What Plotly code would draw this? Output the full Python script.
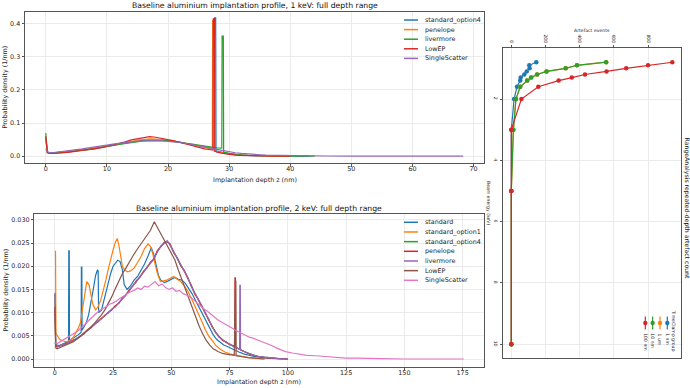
import plotly.graph_objects as go

# ---------------- DATA ----------------
# 1 keV profiles: (depth nm, probability density 1/nm)
P1_STD4 = [(0,0.055),(0.25,0.011),(0.5,0.008),(1,0.009),(2,0.010),(3,0.012),(4,0.013),(5,0.016),(6,0.018),(7,0.020),
           (8,0.024),(9,0.026),(10,0.030),(11,0.032),(12,0.036),(13,0.039),(14,0.043),(15,0.045),(16,0.048),(17,0.049),
           (18,0.050),(19,0.049),(20,0.047),(21,0.045),(22,0.042),(23,0.038),(24,0.034),(25,0.030),(26,0.027),(27,0.023),
           (27.55,0.022),(27.6,0.418),(27.8,0.418),(27.85,0.016),(28.5,0.013),(29,0.011),(30,0.007),(31,0.005),(32,0.003),
           (33,0.002),(34,0.0013),(35,0.0007),(36,0.0004),(38,0.0002),(40,0.0001),(43,0.0)]
P1_PEN = [(0,0.058),(0.25,0.010),(0.5,0.008),(1,0.009),(2,0.010),(3,0.011),(4,0.014),(5,0.016),(6,0.019),(7,0.021),
          (8,0.023),(9,0.027),(10,0.030),(11,0.033),(12,0.037),(13,0.041),(14,0.044),(15,0.048),(16,0.050),(17,0.052),
          (18,0.051),(19,0.050),(20,0.048),(21,0.045),(22,0.041),(23,0.037),(24,0.033),(25,0.029),(26,0.025),(27,0.022),
          (27.25,0.021),(27.3,0.410),(27.5,0.410),(27.55,0.015),(28,0.013),(29,0.009),(30,0.006),(31,0.004),(32,0.003),
          (33,0.002),(34,0.001),(35,0.0006),(36,0.0003),(38,0.0001),(40,0.0)]
P1_LIV = [(0,0.070),(0.25,0.012),(0.5,0.009),(1,0.009),(2,0.010),(3,0.011),(4,0.013),(5,0.015),(6,0.017),(7,0.020),
          (8,0.022),(9,0.026),(10,0.028),(11,0.032),(12,0.035),(13,0.038),(14,0.041),(15,0.043),(16,0.046),(17,0.047),
          (18,0.048),(19,0.047),(20,0.046),(21,0.044),(22,0.042),(23,0.039),(24,0.036),(25,0.033),(26,0.030),(27,0.027),
          (28,0.025),(28.8,0.024),(28.85,0.363),(29.05,0.363),(29.1,0.012),(30,0.008),(31,0.005),(32,0.003),(33,0.002),
          (34,0.0012),(35,0.0007),(36,0.0004),(38,0.0002),(40,0.0001),(44,0.0)]
P1_LOWEP = [(0,0.060),(0.25,0.012),(0.5,0.009),(1,0.008),(2,0.009),(3,0.010),(4,0.012),(5,0.015),(6,0.017),(7,0.019),
            (8,0.022),(9,0.025),(10,0.029),(11,0.033),(12,0.038),(13,0.043),(14,0.049),(15,0.053),(16,0.057),(17,0.059),
            (18,0.057),(19,0.054),(20,0.050),(21,0.046),(22,0.041),(23,0.036),(24,0.031),(25,0.027),(26,0.022),(27,0.019),
            (27.35,0.018),(27.4,0.415),(27.6,0.415),(27.65,0.015),(28,0.012),(29,0.008),(30,0.005),(31,0.003),(32,0.002),
            (33,0.0012),(34,0.0007),(35,0.0004),(36,0.0002),(38,0.0001),(40,0.0)]
P1_SS = [(0,0.020),(0.25,0.013),(0.5,0.010),(1,0.010),(2,0.012),(3,0.014),(4,0.017),(5,0.019),(6,0.022),(7,0.025),
         (8,0.027),(9,0.030),(10,0.033),(11,0.036),(12,0.039),(13,0.041),(14,0.043),(15,0.045),(16,0.046),(17,0.047),
         (18,0.047),(19,0.046),(20,0.045),(21,0.043),(22,0.041),(23,0.038),(24,0.035),(25,0.032),(26,0.028),(27,0.024),
         (28,0.020),(29,0.016),(30,0.013),(31,0.010),(32,0.008),(33,0.006),(34,0.005),(35,0.004),(36,0.003),(38,0.002),
         (40,0.0012),(43,0.0005),(46,0.0002),(50,0.0001),(55,0.0),(60,0.0),(68.3,0.0)]

NAMES_1KEV = ["standard_option4", "penelope", "livermore", "LowEP", "SingleScatter"]
SERIES_1KEV = [P1_STD4, P1_PEN, P1_LIV, P1_LOWEP, P1_SS]
COLORS_1KEV = ["#1f77b4", "#ff7f0e", "#2ca02c", "#d62728", "#9467bd"]

# 2 keV profiles
P2_STD = [(0,0.0035),(0.5,0.0032),(1,0.0030),(2,0.0029),(3,0.0031),(4,0.0033),(5,0.0036),(5.9,0.0038),(6.0,0.0233),
          (6.2,0.0233),(6.3,0.0040),(7,0.0042),(8,0.0045),(9,0.0048),(10,0.0052),(11,0.0056),(11.3,0.0058),(11.4,0.0198),
          (11.6,0.0198),(11.7,0.0062),(12.5,0.0068),(13.5,0.0078),(14.5,0.0095),(15.5,0.0120),(16.5,0.0150),(17.5,0.0180),
          (18.3,0.0192),(18.6,0.0190),(18.8,0.0100),(20,0.0105),(21,0.0125),(22,0.0150),(23,0.0168),(24,0.0185),(25,0.0200),
          (26,0.0207),(27,0.0213),(28,0.0210),(29,0.0192),(29.8,0.0160),(31,0.0150),(32.5,0.0158),(34,0.0170),(35.5,0.0178),
          (37,0.0190),(38.5,0.0205),(40,0.0222),(41.4,0.0240),(42.5,0.0225),(43.5,0.0200),(44.5,0.0180),(45.5,0.0170),
          (47,0.0165),(48.5,0.0168),(50,0.0172),(51.5,0.0176),(53,0.0172),(54.5,0.0170),(56,0.0163),(57.5,0.0152),
          (59,0.0140),(60.5,0.0125),(62,0.0110),(63.5,0.0095),(65,0.0080),(66.5,0.0066),(68,0.0052),(69.5,0.0042),
          (71,0.0035),(72.5,0.0030),(74,0.0027),(75.5,0.0023),(77,0.0020),(79,0.0015),(81,0.0011),(83,0.0008),
          (85,0.0006),(88,0.0004),(91,0.0002),(95,0.0001),(100,0.0)]
P2_OPT1 = [(0,0.0232),(0.3,0.0232),(0.5,0.0055),(1,0.0050),(2,0.0043),(3,0.0040),(4,0.0038),(5,0.0037),(6,0.0039),
           (7,0.0042),(8,0.0047),(9,0.0055),(10,0.0066),(11,0.0078),(12,0.0110),(12.8,0.0140),(13.7,0.0167),(14.7,0.0160),
           (15.5,0.0140),(16.3,0.0118),(17.5,0.0106),(18.5,0.0112),(19.7,0.0127),(21,0.0150),(22,0.0172),(23,0.0195),
           (24,0.0217),(25,0.0235),(26,0.0252),(26.8,0.0260),(27.5,0.0245),(28,0.0228),(29,0.0200),(30,0.0192),
           (31.2,0.0188),(32.5,0.0190),(34,0.0196),(35.5,0.0208),(37,0.0221),(38.5,0.0238),(40,0.0248),(41,0.0243),
           (42,0.0228),(43,0.0205),(44,0.0185),(45.3,0.0167),(46.5,0.0168),(48,0.0170),(49.5,0.0174),(51,0.0178),
           (52.5,0.0172),(54,0.0167),(55.5,0.0158),(57,0.0147),(58.5,0.0132),(60,0.0116),(61.5,0.0098),(63,0.0082),
           (64.5,0.0064),(66,0.0050),(67.5,0.0040),(69,0.0030),(71,0.0021),(73,0.0015),(75,0.0011),(77,0.0009),
           (80,0.0005),(83,0.0003),(87,0.0001),(90,0.0)]
P2_OPT4 = [(0,0.0140),(0.4,0.0030),(1,0.0027),(2,0.0028),(3.5,0.0031),(5,0.0033),(6.5,0.0037),(8,0.0040),(9.5,0.0044),
           (11,0.0049),(12.5,0.0055),(14,0.0062),(15.5,0.0068),(17,0.0075),(18.5,0.0081),(20,0.0087),(21.5,0.0094),
           (23,0.0100),(24.5,0.0107),(26,0.0113),(27.5,0.0121),(29,0.0130),(30.5,0.0138),(32,0.0148),(33.5,0.0158),
           (35,0.0167),(36.5,0.0177),(38,0.0187),(39.5,0.0197),(41,0.0207),(42.5,0.0216),(44,0.0232),(45.5,0.0243),
           (47,0.0250),(48.2,0.0254),(49.5,0.0246),(51,0.0230),(52.5,0.0217),(54,0.0203),(55.5,0.0190),(57,0.0176),
           (58.5,0.0158),(60,0.0142),(61.5,0.0128),(63,0.0115),(64.5,0.0099),(66,0.0086),(67.5,0.0070),(69,0.0058),
           (70.5,0.0048),(72,0.0041),(73.5,0.0036),(75,0.0032),(76.5,0.0028),(78,0.0024),(79.5,0.0020),(81,0.0016),
           (83,0.0012),(85,0.0009),(87,0.0006),(90,0.0004),(93,0.0002),(96,0.0001),(100,0.0)]
P2_PEN = [(0,0.0110),(0.4,0.0028),(1,0.0026),(2,0.0029),(3.5,0.0030),(5,0.0034),(6.5,0.0036),(8,0.0041),(9.5,0.0043),
          (11,0.0050),(12.5,0.0054),(14,0.0063),(15.5,0.0067),(17,0.0076),(18.5,0.0080),(20,0.0088),(21.5,0.0093),
          (23,0.0101),(24.5,0.0106),(26,0.0115),(27.5,0.0120),(29,0.0131),(30.5,0.0137),(32,0.0150),(33.5,0.0157),
          (35,0.0169),(36.5,0.0176),(38,0.0189),(39.5,0.0196),(41,0.0209),(42.5,0.0215),(44,0.0234),(45.5,0.0242),
          (47,0.0252),(48.2,0.0253),(49.5,0.0248),(51,0.0229),(52.5,0.0219),(54,0.0201),(55.5,0.0192),(57,0.0174),
          (58.5,0.0160),(60,0.0140),(61.5,0.0130),(63,0.0113),(64.5,0.0101),(66,0.0084),(67.5,0.0072),(69,0.0057),
          (70.5,0.0049),(72,0.0040),(73.5,0.0037),(75,0.0031),(76.5,0.0029),(77.2,0.0027),(77.3,0.0175),(77.5,0.0175),
          (77.6,0.0025),(79.5,0.0020),(81,0.0017),(83,0.0012),(85,0.0008),(87,0.0006),(90,0.0003),(93,0.0002),
          (96,0.0001),(100,0.0)]
P2_LIV = [(0,0.0143),(0.4,0.0031),(1,0.0028),(2,0.0027),(3.5,0.0032),(5,0.0032),(6.5,0.0038),(8,0.0039),(9.5,0.0045),
          (11,0.0048),(12.5,0.0056),(14,0.0061),(15.5,0.0069),(17,0.0074),(18.5,0.0082),(20,0.0086),(21.5,0.0095),
          (23,0.0099),(24.5,0.0108),(26,0.0112),(27.5,0.0122),(29,0.0129),(30.5,0.0139),(32,0.0147),(33.5,0.0159),
          (35,0.0166),(36.5,0.0178),(38,0.0186),(39.5,0.0198),(41,0.0206),(42.5,0.0217),(44,0.0231),(45.5,0.0244),
          (47,0.0249),(48.2,0.0255),(49.5,0.0245),(51,0.0231),(52.5,0.0216),(54,0.0204),(55.5,0.0189),(57,0.0177),
          (58.5,0.0157),(60,0.0143),(61.5,0.0127),(63,0.0116),(64.5,0.0098),(66,0.0087),(67.5,0.0069),(69,0.0059),
          (70.5,0.0047),(72,0.0042),(73.5,0.0035),(75,0.0033),(76.5,0.0027),(78,0.0024),(79.3,0.0021),(79.4,0.0159),
          (79.6,0.0159),(79.7,0.0019),(81,0.0016),(83,0.0013),(85,0.0009),(87,0.0006),(90,0.0004),(93,0.0002),
          (96,0.0001),(100,0.0)]
P2_LOWEP = [(0,0.0113),(0.4,0.0024),(1,0.0022),(2,0.0024),(3.5,0.0027),(5,0.0030),(6.5,0.0033),(8,0.0037),(9.5,0.0043),
            (11,0.0049),(12.5,0.0055),(14,0.0062),(15.5,0.0069),(17,0.0077),(18.5,0.0085),(20,0.0095),(21.5,0.0106),
            (23,0.0120),(24.5,0.0135),(26,0.0152),(27.5,0.0168),(29,0.0184),(30.5,0.0196),(32,0.0210),(33.5,0.0222),
            (35,0.0234),(36.5,0.0245),(38,0.0256),(39.5,0.0265),(41,0.0277),(42.7,0.0296),(44,0.0284),(45.5,0.0270),
            (47,0.0255),(48.5,0.0240),(50,0.0228),(51.5,0.0214),(53,0.0192),(54.5,0.0172),(56,0.0152),(57.5,0.0130),
            (59,0.0108),(60.5,0.0090),(62,0.0070),(63.5,0.0054),(65,0.0040),(66.5,0.0030),(68,0.0022),(70,0.0016),
            (72,0.0012),(74,0.0010),(77,0.0008),(77.5,0.0168),(77.7,0.0168),(77.8,0.0007),(80,0.0005),(83,0.0003),
            (86,0.0002),(90,0.0)]
P2_SS = [(0,0.0035),(1,0.0033),(2.5,0.0038),(4,0.0042),(5.5,0.0046),(7,0.0051),(8.5,0.0056),(10,0.0061),(11.5,0.0068),
         (13,0.0076),(14.5,0.0083),(16,0.0090),(17.5,0.0097),(19,0.0104),(20.5,0.0108),(22,0.0114),(23.5,0.0118),
         (25,0.0121),(26.5,0.0125),(28,0.0131),(29.5,0.0136),(31,0.0140),(32.5,0.0145),(34,0.0148),(35.5,0.0153),
         (37,0.0150),(38.5,0.0157),(40,0.0155),(41.5,0.0162),(43,0.0167),(44.5,0.0158),(46,0.0162),(47.5,0.0154),
         (49,0.0150),(50.5,0.0153),(52,0.0146),(53.5,0.0148),(55,0.0141),(56.5,0.0138),(58,0.0134),(59.5,0.0128),
         (61,0.0121),(62.5,0.0116),(64,0.0108),(65.5,0.0103),(67,0.0096),(68.5,0.0090),(70,0.0084),(71.5,0.0080),
         (73,0.0076),(74.5,0.0072),(76,0.0067),(77.5,0.0062),(79,0.0058),(80.5,0.0054),(82,0.0051),(83.5,0.0047),
         (85,0.0045),(87,0.0041),(89,0.0037),(91,0.0034),(93,0.0029),(95,0.0024),(97,0.0020),(99,0.0016),(102,0.0013),
         (105,0.0010),(108,0.0008),(112,0.0007),(116,0.0005),(120,0.0003),(125,0.0002),(130,0.0002),(135,0.0001),
         (140,0.0001),(150,0.0),(160,0.0),(175.5,0.0)]

NAMES_2KEV = ["standard", "standard_option1", "standard_option4", "penelope", "livermore", "LowEP", "SingleScatter"]
SERIES_2KEV = [P2_STD, P2_OPT1, P2_OPT4, P2_PEN, P2_LIV, P2_LOWEP, P2_SS]
COLORS_2KEV = ["#1f77b4", "#ff7f0e", "#2ca02c", "#d62728", "#9467bd", "#8c564b", "#e377c2"]

# Repeated-depth artefact counts vs beam energy
ENERGY_KEV = [0.8, 0.9, 1.0, 1.1, 1.2, 1.3, 1.4, 1.6, 2.0, 3.0, 5.0, 10.0]
EVENTS_1NM = [146, 105, 107, 90, 76, 55, 52, 33, 16, 0, 0, 0]
EVENTS_1UM = [555, 384, 318, 206, 151, 116, 93, 52, 27, 12, 0, 0]
EVENTS_10NM = [555, 384, 318, 206, 151, 116, 93, 52, 27, 12, 0, 0]
EVENTS_100NM = [942, 800, 672, 557, 431, 354, 277, 158, 59, 0, 0, 0]
GROUP_NAMES = ["1 nm", "1 um", "10 nm", "100 nm"]
GROUP_EVENTS = [EVENTS_1NM, EVENTS_1UM, EVENTS_10NM, EVENTS_100NM]
GROUP_COLORS = ["#1f77b4", "#ff7f0e", "#2ca02c", "#d62728"]

# ---------------- FIGURE ----------------
W, H = 690, 388
FONT = "DejaVu Sans"
TXT = "#262626"
def px(x): return x / W
def py(y): return 1 - y / H

fig = go.Figure()
for name, pts, col in zip(NAMES_1KEV, SERIES_1KEV, COLORS_1KEV):
    fig.add_trace(go.Scatter(x=[p[0] for p in pts], y=[p[1] for p in pts], mode="lines", name=name,
                             line=dict(color=col, width=1.2), xaxis="x", yaxis="y", showlegend=False))
for name, pts, col in zip(NAMES_2KEV, SERIES_2KEV, COLORS_2KEV):
    fig.add_trace(go.Scatter(x=[p[0] for p in pts], y=[p[1] for p in pts], mode="lines", name=name,
                             line=dict(color=col, width=1.2), xaxis="x2", yaxis="y2", showlegend=False))
for name, ev, col in zip(GROUP_NAMES, GROUP_EVENTS, GROUP_COLORS):
    fig.add_trace(go.Scatter(x=ev, y=ENERGY_KEV, mode="lines+markers", name=name,
                             line=dict(color=col, width=1.2), marker=dict(color=col, size=4.5),
                             xaxis="x3", yaxis="y3", showlegend=False))

ax_common = dict(showline=True, mirror=True, linecolor="#555555", linewidth=1, ticks="outside", ticklen=2.5,
                 tickcolor="#555555", tickwidth=0.8, showgrid=True, gridcolor="#ebebeb", gridwidth=0.8,
                 zeroline=False, tickfont=dict(family=FONT, size=6.4, color=TXT))
ax_small = dict(ax_common, tickfont=dict(family=FONT, size=4.6, color=TXT), ticklen=2.5)

fig.update_layout(
    width=W, height=H, margin=dict(l=0, r=0, t=0, b=0),
    paper_bgcolor="white", plot_bgcolor="white", showlegend=False,
    font=dict(family=FONT, color=TXT),
    xaxis=dict(ax_common, domain=[px(25), px(484)], range=[-3.4, 71.7], anchor="y",
               tickvals=[0, 10, 20, 30, 40, 50, 60, 70], ticklabelstandoff=-3),
    yaxis=dict(ax_common, domain=[py(163), py(12)], range=[-0.021, 0.436], anchor="x",
               tickvals=[0, 0.1, 0.2, 0.3, 0.4], tickformat=".1f"),
    xaxis2=dict(ax_common, domain=[px(34.3), px(484.3)], range=[-8.8, 184.3], anchor="y2",
                tickvals=[0, 25, 50, 75, 100, 125, 150, 175], ticklabelstandoff=-3),
    yaxis2=dict(ax_common, domain=[py(366.7), py(214.3)], range=[-0.00166, 0.0312], anchor="x2",
                tickvals=[0, 0.005, 0.01, 0.015, 0.02, 0.025, 0.03], tickformat=".3f"),
    xaxis3=dict(ax_small, domain=[px(503.3), px(681)], range=[-47, 993], anchor="y3", side="top",
                tickvals=[0, 200, 400, 600, 800], tickangle=90),
    yaxis3=dict(ax_small, domain=[py(358.3), py(48.3)], range=[10.457, 0.346], anchor="x3",
                tickvals=[2, 4, 6, 8, 10], tickangle=90),
)

ann = []
def add_text(x, y, text, size, xa="center", ya="middle", angle=0, color=TXT):
    ann.append(dict(x=px(x), y=py(y), xref="paper", yref="paper", text=text, showarrow=False,
                    xanchor=xa, yanchor=ya, textangle=angle, font=dict(family=FONT, size=size, color=color)))

add_text(254.5, 5.5, "Baseline aluminium implantation profile, 1 keV: full depth range", 7.7, color="#111111")
add_text(259.3, 208, "Baseline aluminium implantation profile, 2 keV: full depth range", 7.7, color="#111111")
add_text(254.5, 179.5, "Implantation depth z (nm)", 6.4)
add_text(259.3, 382, "Implantation depth z (nm)", 6.4)
add_text(5, 87.5, "Probability density (1/nm)", 6.4, angle=-90)
add_text(5, 290.5, "Probability density (1/nm)", 6.4, angle=-90)
add_text(592, 31, "Artefact events", 4.6)
add_text(489, 203, "Beam energy (keV)", 4.6, angle=90)
add_text(686.5, 208, "RangeAnalysis repeated-depth artefact count", 6.2, angle=90, color="#111111")

shapes = []
# legends of the two profile panels
for i, (name, col) in enumerate(zip(NAMES_1KEV, COLORS_1KEV)):
    yy = 20 + 9.6 * i
    shapes.append(dict(type="line", xref="paper", yref="paper", x0=px(404), x1=px(418), y0=py(yy), y1=py(yy),
                       line=dict(color=col, width=1.5)))
    add_text(422.7, yy, name, 6.4, xa="left")
for i, (name, col) in enumerate(zip(NAMES_2KEV, COLORS_2KEV)):
    yy = 222.3 + 9.67 * i
    shapes.append(dict(type="line", xref="paper", yref="paper", x0=px(404), x1=px(418), y0=py(yy), y1=py(yy),
                       line=dict(color=col, width=1.5)))
    add_text(422.7, yy, name, 6.4, xa="left")
# rotated legend of the artefact panel
for i, (name, col) in enumerate(zip(GROUP_NAMES, GROUP_COLORS)):
    xx = 667.3 - 7.33 * i
    shapes.append(dict(type="line", xref="paper", yref="paper", x0=px(xx), x1=px(xx), y0=py(316.5), y1=py(329.5),
                       line=dict(color=col, width=1.2)))
    shapes.append(dict(type="circle", xref="paper", yref="paper", x0=px(xx - 2.2), x1=px(xx + 2.2),
                       y0=py(323 + 2.2), y1=py(323 - 2.2), line=dict(color=col, width=0), fillcolor=col))
    add_text(xx, 331.5, name, 4.6, ya="top", angle=90)
add_text(674.3, 331, "TimeClamp group", 4.6, angle=90)

fig.update_layout(annotations=ann, shapes=shapes)
fig.write_html("out.html")
